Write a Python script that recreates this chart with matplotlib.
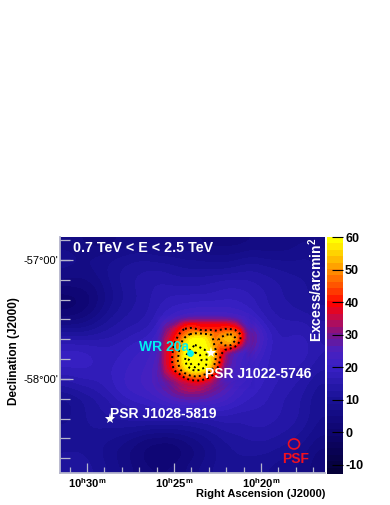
import numpy as np
import matplotlib
matplotlib.use("Agg")
import matplotlib.pyplot as plt
from matplotlib.colors import LinearSegmentedColormap, BoundaryNorm
from matplotlib.patches import Ellipse
from matplotlib.ticker import FixedLocator

plt.rcParams['font.family'] = ['Liberation Sans', 'DejaVu Sans']
plt.rcParams['mathtext.fontset'] = 'custom'
plt.rcParams['mathtext.bf'] = 'Liberation Sans:bold'
plt.rcParams['mathtext.rm'] = 'Liberation Sans'

# Excess map, wide field (rows north to south, columns east to west)
excess_wide = [
 [ 6, 5, 4, 4, 5, 6, 6, 5, 5, 5, 5, 4, 4, 4, 5, 5, 5, 6, 7, 6],
 [ 8, 7, 7, 8, 9,10,10, 9, 9, 8, 8, 7, 7, 8, 9, 8, 8, 8, 9, 8],
 [ 7, 6, 7, 9,11,12,13,13,12,11,11,11,11,12,13,12,11,10,10, 9],
 [ 4, 4, 5, 8,11,13,14,15,14,14,14,15,16,16,15,14,13,12,11,10],
 [ 0, 1, 3, 7,10,12,14,16,17,17,17,17,18,18,17,15,13,12,11,10],
 [ 0, 1, 4, 8,11,13,14,17,19,20,21,21,21,20,18,15,14,13,12,11],
 [ 5, 6, 8,11,13,14,15,19,24,27,28,28,27,26,24,17,15,15,15,13],
 [13,12,13,14,15,17,18,22,30,38,38,38,36,36,32,22,16,17,17,14],
 [19,19,18,17,18,20,21,24,34,42,45,45,42,38,28,20,17,18,18,15],
 [20,20,19,18,19,21,22,26,36,44,48,46,38,28,22,19,17,18,17,14],
 [17,18,18,18,20,22,23,27,36,44,46,42,32,25,21,19,17,16,15,12],
 [12,14,15,17,20,22,23,26,30,36,35,30,26,22,20,18,16,15,13,10],
 [ 8,10,12,14,17,19,20,22,25,26,26,25,23,20,18,17,15,14,12, 9],
 [ 8,10,12,13,14,15,16,16,16,16,16,17,17,16,16,16,15,14,12, 9],
 [ 9,10,11,11,11,11,10,10,10,10,11,12,14,14,15,15,14,13,11, 8],
 [10,10,10, 9, 8, 6, 4, 3, 3, 5, 7, 9,11,12,13,13,12,11, 9, 6],
 [11,11,10, 8, 6, 4, 2, 1, 1, 3, 5, 8,10,11,11,11,10, 9, 7, 4],
 [11,12,11, 9, 7, 5, 3, 3, 3, 5, 7, 9,10,10,10, 9, 8, 7, 6, 3],
]

# Excess map, central source
excess_core = [
 [20,21,22,23,24,25,26,27,27,27,27,27,27,26,26,25,24,23,21,20,18],
 [21,22,24,25,27,29,31,32,32,32,32,32,32,32,32,31,29,26,23,20,18],
 [22,24,26,28,30,34,38,39,39,38,38,38,38,38,38,37,35,30,25,21,19],
 [23,25,29,32,36,40,43,44,43,42,41,42,41,42,43,43,42,38,30,23,19],
 [23,27,31,35,39,43,47,51,53,53,52,51,47,48,50,51,49,43,33,25,20],
 [24,28,33,37,41,46,53,58,59,59,58,54,48,51,53,54,51,43,33,25,20],
 [24,28,34,38,43,49,57,59,60,59,59,56,49,48,51,51,46,38,30,24,19],
 [24,29,35,39,44,51,58,60,61,61,60,57,51,44,42,39,35,30,26,22,18],
 [24,29,35,39,45,52,59,62,65,63,61,58,52,43,34,29,26,24,22,20,18],
 [24,29,35,39,46,53,60,64,67,64,61,58,51,42,33,28,25,23,22,20,18],
 [24,29,35,39,45,52,59,62,65,62,61,57,49,40,31,27,25,23,21,20,18],
 [24,28,34,38,43,49,56,59,61,60,59,53,45,36,29,26,24,23,21,20,18],
 [23,27,32,35,38,41,47,51,53,52,49,45,40,31,27,25,24,23,21,20,18],
 [22,25,29,32,34,37,39,42,43,43,41,38,33,28,25,24,23,22,21,19,18],
 [21,23,25,27,29,31,32,33,35,35,33,31,28,25,23,22,21,21,20,19,17],
 [20,21,22,23,24,25,26,26,27,27,26,25,24,23,22,21,20,20,19,18,17],
]
RA_CORE = (26.24, 20.20)
DEC_CORE = (-57.44, -58.113)
contour_levels = [42, 50, 60, 63]

ra_limits = (31.55, 16.32)
dec_limits = (-58.79, -56.807)
ra_major = [30, 25, 20]
ra_labels = ['10$\\mathbf{^{h}}$30$\\mathbf{^{m}}$', '10$\\mathbf{^{h}}$25$\\mathbf{^{m}}$', '10$\\mathbf{^{h}}$20$\\mathbf{^{m}}$']
dec_major = [-57, -58]
dec_labels = ["-57°00'", "-58°00'"]
cbar_ticks = [-10, 0, 10, 20, 30, 40, 50, 60]
z_range = (-12.8, 60)

stop_values = [-12.8, 0, 10, 20, 25, 30, 35, 40, 45, 50, 53, 57, 60]
stop_colors = ['#050038', '#0e0570', '#1a1296', '#3820c4', '#4a20c0', '#76148c', '#c00c50',
               '#ff0000', '#ff4a00', '#ff8a00', '#ffb000', '#ffe000', '#ffff00']

sources = {'psr1028': (28.68, -58.336), 'psr1022': (22.89, -57.784), 'wr20a': (24.08, -57.784)}
psf_center = (18.1, -58.546)

span = z_range[1] - z_range[0]
cmap = LinearSegmentedColormap.from_list(
    'excess', [((v - z_range[0]) / span, c) for v, c in zip(stop_values, stop_colors)], N=37)
bounds = np.linspace(z_range[0], z_range[1], 38)
norm = BoundaryNorm(bounds, cmap.N, clip=True)

fig = plt.figure(figsize=(3.9, 5.05), dpi=100)
W, H = 390, 505
ax = fig.add_axes([60 / W, 1 - 473 / H, 265 / W, 236 / H])
ax.set_facecolor('#0e0570')

wide = np.array(excess_wide, dtype=float)
core = np.array(excess_core, dtype=float)
ax.imshow(wide, extent=(ra_limits[0], ra_limits[1], dec_limits[0], dec_limits[1]), aspect='auto',
          cmap=cmap, norm=norm, interpolation='bicubic', interpolation_stage='data', origin='upper')
# feather the patch edge so that it blends into the wide map
edge_y = np.minimum(np.arange(core.shape[0]), np.arange(core.shape[0])[::-1])
edge_x = np.minimum(np.arange(core.shape[1]), np.arange(core.shape[1])[::-1])
feather = np.clip(np.minimum.outer(edge_y, edge_x) / 2.0, 0, 1)
ax.imshow(core, extent=(RA_CORE[0], RA_CORE[1], DEC_CORE[1], DEC_CORE[0]), aspect='auto', alpha=feather,
          cmap=cmap, norm=norm, interpolation='bilinear', origin='upper')
ra_c = np.linspace(RA_CORE[0], RA_CORE[1], core.shape[1] * 2 + 1)[1::2]
dec_c = np.linspace(DEC_CORE[0], DEC_CORE[1], core.shape[0] * 2 + 1)[1::2]
ax.contour(ra_c, dec_c, core, levels=contour_levels, colors='black', linewidths=1.4,
           linestyles=[(0, (1, 1.6))])
ax.set_xlim(*ra_limits)
ax.set_ylim(*dec_limits)

frame = '#b4b4cc'
for s in ('top', 'right'):
    ax.spines[s].set_visible(False)
for s in ('left', 'bottom'):
    ax.spines[s].set_color(frame)
    ax.spines[s].set_linewidth(1.3)
ax.set_xticks(ra_major, ra_labels, fontsize=8, fontweight='bold')
ax.set_yticks(dec_major, dec_labels, fontsize=8)
ax.xaxis.set_minor_locator(FixedLocator(np.arange(17, 32, 1)))
ax.yaxis.set_minor_locator(FixedLocator(np.arange(-58.8333, -56.8, 1 / 6)))
ax.tick_params(axis='x', which='major', direction='in', length=7, width=0.9, color=frame, pad=2)
ax.tick_params(axis='x', which='minor', direction='in', length=4, width=0.9, color=frame)
ax.tick_params(axis='y', which='major', direction='in', length=9, width=0.9, color=frame, pad=1)
ax.tick_params(axis='y', which='minor', direction='in', length=7, width=0.9, color=frame)

fig.text(325 / W, 1 - 494 / H, 'Right Ascension (J2000)', ha='right', va='center', fontsize=8, fontweight='bold')
fig.text(14 / W, 1 - 351 / H, 'Declination (J2000)', rotation=90, ha='center', va='center', fontsize=8.5, fontweight='bold')

ax.text(0.05, 0.953, '0.7 TeV < E < 2.5 TeV', transform=ax.transAxes, color='white', fontsize=10.3,
        fontweight='bold', va='center', ha='left')
def px(x, y):
    return (x / W, 1 - y / H)
fig.text(*px(205, 374), 'PSR J1022-5746', color='white', fontsize=10, fontweight='bold', va='center', ha='left')
fig.text(*px(110, 414), 'PSR J1028-5819', color='white', fontsize=10, fontweight='bold', va='center', ha='left')
fig.text(*px(139, 347), 'WR 20a', color='#00f0f0', fontsize=10, fontweight='bold', va='center', ha='left')
fig.text(*px(296, 459), 'PSF', color='#f01020', fontsize=10, fontweight='bold', va='center', ha='center')
fig.text(*px(316, 290), 'Excess/arcmin$\\mathbf{^{2}}$', color='white', fontsize=10, fontweight='bold',
         rotation=90, va='center', ha='center')

ax.plot(*sources['psr1028'], marker='*', color='white', ms=8, mew=0)
ax.plot(*sources['psr1022'], marker='*', color='white', ms=8, mew=0)
ax.plot(*sources['wr20a'], marker='o', color='#00f0f0', ms=5, mew=0)
ax.add_patch(Ellipse(psf_center, width=11 / 17.4, height=10 / 119, fill=False, ec='#f01020', lw=1.2))

cax = fig.add_axes([327 / W, 1 - 474 / H, 16 / W, 237 / H])
centers = (bounds[:-1] + bounds[1:]) / 2
cax.pcolormesh([0, 1], bounds, centers[:, None], cmap=cmap, norm=norm)
cax.set_ylim(*z_range)
cax.set_xticks([])
cax.yaxis.tick_right()
cax.set_yticks(cbar_ticks, [str(t) for t in cbar_ticks], fontsize=9, fontweight='bold')
cax.tick_params(axis='y', direction='in', length=8, width=0.8, color='black', pad=1.5)
for s in cax.spines.values():
    s.set_visible(False)

fig.savefig('out.png', dpi=100, facecolor='white')
